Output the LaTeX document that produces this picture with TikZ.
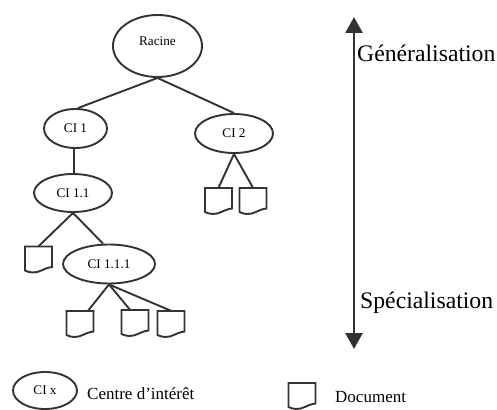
\documentclass[tikz,border=0pt]{standalone}
\usepackage{fontspec}
\setmainfont{Liberation Serif}
\usetikzlibrary{arrows.meta,shapes.geometric}
\definecolor{ink}{HTML}{333333}
\newcommand{\fbig}{\fontsize{23.7}{26}\selectfont}
\newcommand{\fmid}{\fontsize{17}{20}\selectfont}
\newcommand{\fsml}{\fontsize{13.2}{15}\selectfont}
\tikzset{
  cinode/.style={ellipse,draw=ink,line width=1.9pt,inner sep=0pt,text=black,font=\fsml},
  docbox/.style={minimum width=27pt,minimum height=26pt,inner sep=0pt},
  docline/.style={draw=ink,line width=1.9pt,line join=miter},
  edge/.style={draw=ink,line width=1.9pt},
  axis/.style={draw=ink,line width=2.8pt,{Triangle[length=16pt,width=17pt]}-{Triangle[length=16pt,width=17pt]}},
  lab/.style={anchor=base west,inner sep=0pt,text=black}
}
\newcommand{\docshape}[1]{%
  \begin{scope}[shift={(#1.center)}]
    \draw[docline] (-13.5,-13) -- (13.5,-13) -- (13.5,7.5) .. controls (5,8.5) and (1,13.5) .. (-6,13) .. controls (-9,13) and (-11,12) .. (-13.5,11) -- cycle;
  \end{scope}}
\begin{document}
\begin{tikzpicture}[x=1pt,y=-1pt]
\useasboundingbox (0,0) rectangle (497,409);
\node[cinode,minimum width=89pt,minimum height=62pt] (root) at (157.5,46) {\raisebox{9pt}{Racine}};
\node[cinode,minimum width=63pt,minimum height=39pt] (ci1) at (75.5,128.5) {CI 1};
\node[cinode,minimum width=78pt,minimum height=39pt] (ci2) at (234,133.5) {CI 2};
\node[cinode,minimum width=78pt,minimum height=38pt] (ci11) at (73,193) {CI 1.1};
\node[cinode,minimum width=92pt,minimum height=39pt] (ci111) at (109,264) {CI 1.1.1};
\node[cinode,minimum width=64pt,minimum height=37pt] (cix) at (45,390.5) {\raisebox{-1.5pt}{CI x}};
\node[docbox] (d1) at (38.5,259.5) {};
\node[docbox] (d2) at (80,324) {};
\node[docbox] (d3) at (135,323) {};
\node[docbox] (d4) at (171,324) {};
\node[docbox] (d5) at (218.5,201) {};
\node[docbox] (d6) at (253,201) {};
\node[docbox] (d7) at (302,396) {};
\docshape{d1}\docshape{d2}\docshape{d3}\docshape{d4}\docshape{d5}\docshape{d6}\docshape{d7}
\draw[edge] (root.south) -- ([xshift=2.5pt]ci1.north);
\draw[edge] (root.south) -- (ci2.north);
\draw[edge] ([xshift=-1.5pt]ci1.south) -- ([xshift=1pt]ci11.north);
\draw[edge] (ci11.south) -- (d1.north);
\draw[edge] (ci11.south) -- ([xshift=-6pt]ci111.north);
\draw[edge] (ci111.south) -- ([xshift=8pt]d2.north);
\draw[edge] (ci111.south) -- ([xshift=-5pt]d3.north);
\draw[edge] (ci111.south) -- (d4.north);
\draw[edge] (ci2.south) -- (d5.north);
\draw[edge] (ci2.south) -- (d6.north);
\coordinate (axtop) at (354,17);
\coordinate (axbot) at (354,349);
\draw[axis] (axtop) -- (axbot);
\node[lab,font=\fbig] (gen) at (357,61.5) {Généralisation};
\node[lab,font=\fbig] (spe) at (360,308.5) {Spécialisation};
\node[lab,font=\fmid] (lci) at (87,399) {Centre d’intérêt};
\node[lab,font=\fmid] (ldoc) at (335,402) {Document};
\end{tikzpicture}
\end{document}
